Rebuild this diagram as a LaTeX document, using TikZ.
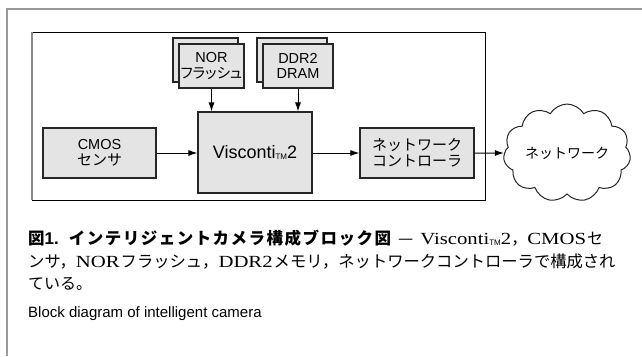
\documentclass[tikz,border=0pt]{standalone}
\usepackage{fontspec}
\setmainfont[FakeStretch=1.22]{Liberation Serif}
\newfontfamily\lab{Liberation Sans}
\newfontfamily\cjk{Noto Sans CJK JP}
\newfontfamily\cjkp[RawFeature=+palt]{Noto Sans CJK JP}
\newfontfamily\cjkb[LetterSpace=9]{Noto Sans CJK JP}
\usetikzlibrary{arrows.meta,shapes.symbols}
\definecolor{boxfill}{HTML}{E4E4E4}
\definecolor{frame}{HTML}{9A9A9A}
\newcommand{\tmsub}[1]{\raisebox{-1.2pt}{\lab\fontsize{#1}{#1}\selectfont TM}}
\tikzset{
  blk/.style={draw=black!85, line width=1.1pt, fill=boxfill, align=center, inner sep=0pt,
    font=\lab\fontsize{14.5}{15.5}\selectfont},
  arr/.style={line width=1pt, -{Latex[length=9pt,width=6pt]}},
  captxt/.style={anchor=base west, inner sep=0pt, font=\fontsize{17}{19}\selectfont},
}
\begin{document}
\begin{tikzpicture}[x=1pt,y=-1pt]
\useasboundingbox (0,0) rectangle (642,356);
% outer frame
\draw[frame, line width=2pt] (7,356) -- (7,9) -- (642,9);
% inner box
\draw[black, line width=0.9pt] (32,32) rectangle (485,200);
\draw[frame!90!black, line width=1.8pt] (32,32) -- (32,200.4);
% memory stacks
\node[blk, minimum width=65pt, minimum height=44pt] (norb) at (205.5,60) {};
\node[blk, minimum width=65pt, minimum height=44pt] (nor) at (211.5,66) {NOR\\{\cjkp\fontsize{14.5}{15.5}\selectfont フラッシュ}};
\node[blk, minimum width=70pt, minimum height=44pt] (ddrb) at (292,60) {};
\node[blk, minimum width=70pt, minimum height=44pt] (ddr) at (298,66) {DDR2\\DRAM};
% main blocks
\node[blk, minimum width=114pt, minimum height=81pt, font=\lab\fontsize{18}{19}\selectfont] (vis) at (255,152.5) {Visconti\tmsub{8}2};
\node[blk, minimum width=113pt, minimum height=50pt] (cmos) at (99.5,153) {CMOS\\{\cjk\fontsize{15}{15.5}\selectfont センサ}};
\node[blk, minimum width=114pt, minimum height=50pt, font=\cjk\fontsize{15}{16.5}\selectfont] (net) at (417,153) {ネットワーク\\コントローラ};
\node[cloud, cloud puffs=11, cloud puff arc=120, aspect=1.45, draw=black!85, line width=1pt, fill=white,
  minimum width=108pt, minimum height=77pt, inner sep=0pt, font=\cjk\fontsize{14}{16}\selectfont] (cld) at (567,153) {ネットワーク};
% connectors
\draw[arr] (nor.south) -- (nor.south |- vis.north);
\draw[arr] (ddr.south) -- (ddr.south |- vis.north);
\draw[arr] (cmos.east) -- (cmos.east -| vis.west);
\draw[arr] (vis.east |- net.west) -- (net.west);
\draw[arr] (net.east) -- (cld.west);
% caption
\node[captxt] (cap1) at (28,244)
  {{\cjk\bfseries\fontsize{16.5}{19}\selectfont 図}{\lab\bfseries\fontsize{17}{19}\selectfont 1.}\hspace{10pt}{\cjkb\bfseries\fontsize{16.5}{19}\selectfont インテリジェントカメラ構成ブロック図}\hspace{7pt}{\cjk —}\hspace{7pt}Visconti\tmsub{8}2{\cjk\fontsize{16}{19}\selectfont ，}CMOS\hspace{1pt}{\cjk\fontsize{16}{19}\selectfont セ}};
\node[captxt] (cap2) at (28,267)
  {{\cjk\fontsize{16.3}{19}\selectfont ンサ，}NOR\hspace{1pt}{\cjk\fontsize{16.3}{19}\selectfont フラッシュ，}DDR2\hspace{1pt}{\cjk\fontsize{16.3}{19}\selectfont メモリ，ネットワークコントローラで構成され}};
\node[captxt] (cap3) at (28,289)
  {{\cjk\fontsize{16}{19}\selectfont ている。}};
\node[anchor=base west, inner sep=0pt, font=\lab\fontsize{15}{17}\selectfont] (cap4) at (28,317)
  {Block diagram of intelligent camera};
\end{tikzpicture}
\end{document}
